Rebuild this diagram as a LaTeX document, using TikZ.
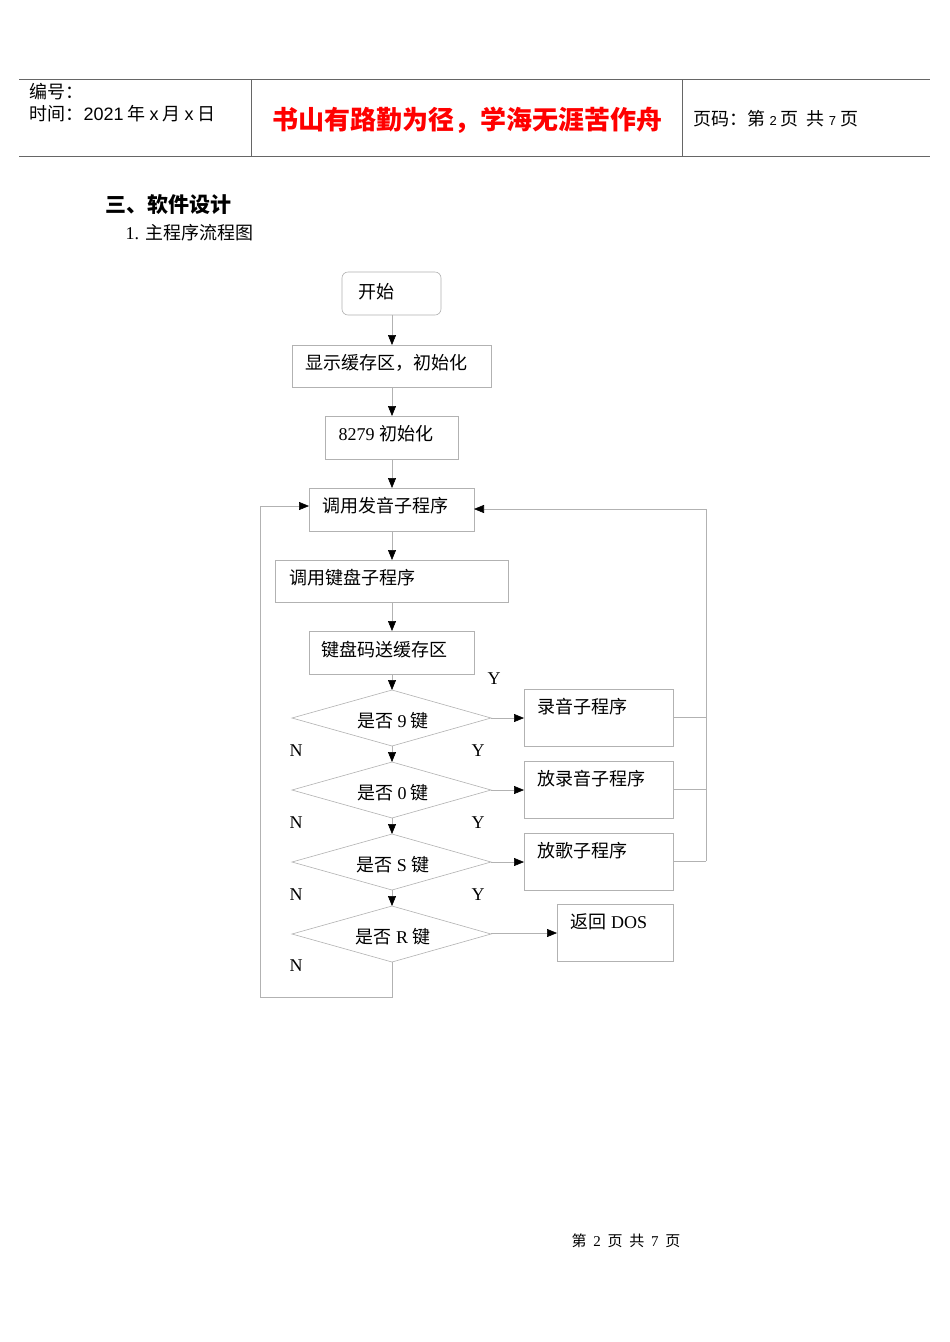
\documentclass[tikz,border=0pt]{standalone}
\usepackage{fontspec}
\setmainfont{Liberation Serif}
\newfontfamily\cjk{Noto Sans CJK SC}
\newfontfamily\hsans{Liberation Sans}
\usetikzlibrary{arrows.meta,shapes.geometric}
\begin{document}
\begin{tikzpicture}[x=1pt,y=-1pt,
  bx/.style={draw=gray!60,line width=0.6pt},
  ar/.style={draw=gray!60,line width=0.6pt,-{Triangle[black,length=10pt,width=8pt]}},
  lb/.style={anchor=west,font=\fontsize{18}{18}\selectfont},
  yn/.style={font=\fontsize{18}{18}\selectfont}]
\useasboundingbox (0,0) rectangle (950,1342);
\fill[white] (0,0) rectangle (950,1342);
% header
\draw[gray!80!black,line width=1pt] (19,79) -- (930,79) (19,156) -- (930,156) (251,79) -- (251,156) (682,79) -- (682,156);
\node[anchor=west,font=\cjk\fontsize{18}{18}\selectfont] (h1) at (26,92) {编号：};
\node[anchor=west,font=\cjk\fontsize{18}{18}\selectfont] (h2) at (26,114) {时间：{\hsans 2021} 年 {\hsans x} 月 {\hsans x} 日};
\node[font=\cjk\bfseries\fontsize{26}{26}\selectfont,text=red] (h3) at (467,120) {书山有路勤为径，学海无涯苦作舟};
\node[anchor=west,font=\cjk\fontsize{18}{18}\selectfont] (h4) at (690,119) {页码：第 {\hsans\fontsize{13}{13}\selectfont 2} 页\ \ 共 {\hsans\fontsize{13}{13}\selectfont 7} 页};
\node[anchor=west,font=\cjk\bfseries\fontsize{21}{21}\selectfont] (t1) at (102,205) {三、软件设计};
\node[anchor=west,font=\fontsize{18}{18}\selectfont] (t2) at (122,233) {1. {\cjk 主程序流程图}};
% boxes
\draw[bx,rounded corners=6pt] (342,272) rectangle (441,315);
\node[lb] (n0) at (355,292) {\cjk 开始};
\draw[bx] (292,345) rectangle (491,387);
\node[lb] (n1) at (302,363) {\cjk 显示缓存区，初始化};
\draw[bx] (325,416) rectangle (458,459);
\node[lb] (n2) at (335,434) {8279 {\cjk 初始化}};
\draw[bx] (309,488) rectangle (474,531);
\node[lb] (n3) at (319,506) {\cjk 调用发音子程序};
\draw[bx] (275,560) rectangle (508,602);
\node[lb] (n4) at (286,578) {\cjk 调用键盘子程序};
\draw[bx] (309,631) rectangle (474,674);
\node[lb] (n5) at (318,650) {\cjk 键盘码送缓存区};
\foreach \c/\t in {718/是否 {\rmfamily 9} 键,790/是否 {\rmfamily 0} 键,862/是否 {\rmfamily S} 键,934/是否 {\rmfamily R} 键}{
  \draw[bx] (292,\c) -- (392,\c-28) -- (491,\c) -- (392,\c+28) -- cycle;
  \node[font=\cjk\fontsize{18}{18}\selectfont] at (393,\c+3) {\t};
}
\draw[bx] (524,689) rectangle (673,746); \node[lb] (r1) at (534,707) {\cjk 录音子程序};
\draw[bx] (524,761) rectangle (673,818); \node[lb] (r2) at (534,779) {\cjk 放录音子程序};
\draw[bx] (524,833) rectangle (673,890); \node[lb] (r3) at (534,851) {\cjk 放歌子程序};
\draw[bx] (557,904) rectangle (673,961); \node[lb] (r4) at (567,922) {{\cjk 返回} DOS};
% arrows
\draw[ar] (392,315) -- (392,345);
\draw[ar] (392,387) -- (392,416);
\draw[ar] (392,459) -- (392,488);
\draw[ar] (392,531) -- (392,560);
\draw[ar] (392,602) -- (392,631);
\draw[ar] (392,674) -- (392,690);
\draw[ar] (392,746) -- (392,762);
\draw[ar] (392,818) -- (392,834);
\draw[ar] (392,890) -- (392,906);
\draw[ar] (491,718) -- (524,718);
\draw[ar] (491,790) -- (524,790);
\draw[ar] (491,862) -- (524,862);
\draw[ar] (491,933) -- (557,933);
\draw[bx] (673,717) -- (706,717) (673,789) -- (706,789) (673,861) -- (706,861);
\draw[ar] (706,861) -- (706,509) -- (474,509);
\draw[ar] (392,962) -- (392,997) -- (260,997) -- (260,506) -- (309,506);
% labels
\node[yn] at (494,679) {Y};
\foreach \y in {751,823,895} {\node[yn] at (478,\y) {Y};}
\foreach \y in {751,823,895,966} {\node[yn] at (296,\y) {N};}
\node[font=\cjk\fontsize{15}{15}\selectfont] (ft) at (626,1241) {第\ \ {\rmfamily 2}\ \ 页\ \ 共\ \ {\rmfamily 7}\ \ 页};
\end{tikzpicture}
\end{document}
